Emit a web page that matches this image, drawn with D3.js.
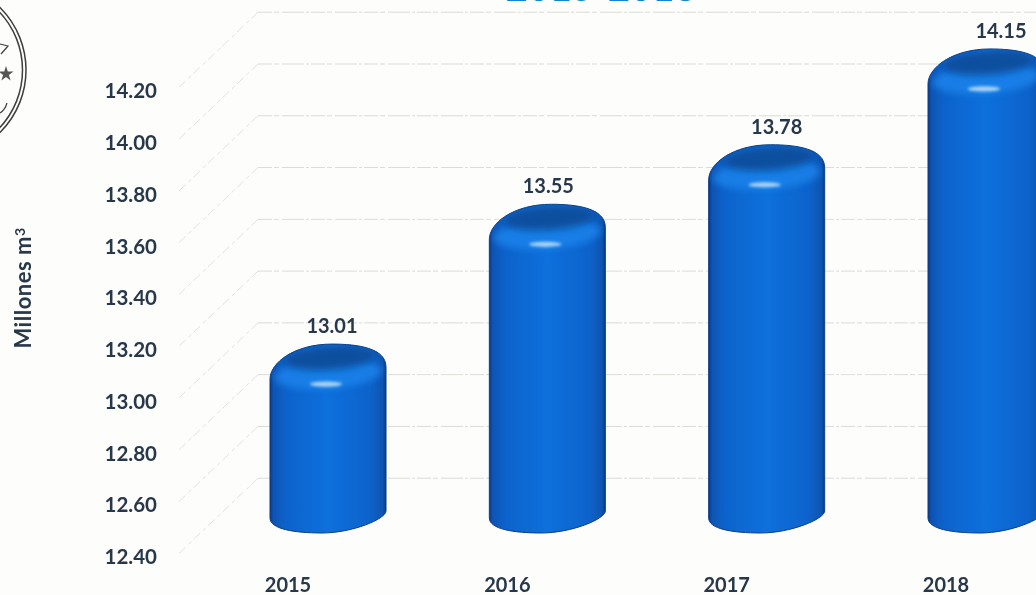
<!DOCTYPE html>
<html>
<head>
<meta charset="utf-8">
<script src="https://cdn.jsdelivr.net/npm/d3@7"></script>
<style>
  html, body { margin: 0; padding: 0; background: #fdfdfb; overflow: hidden; }
  text { font-family: Lato, "Open Sans", sans-serif; font-weight: 700; fill: #27374a; }
</style>
</head>
<body>
<div id="viz_container"></div>
<script>
// chart values
const years = ["2015", "2016", "2017", "2018"];
const volumes = [13.01, 13.55, 13.78, 14.15];
const tickLabels = [12.4, 12.6, 12.8, 13.0, 13.2, 13.4, 13.6, 13.8, 14.0, 14.2];
const gridLevels = [12.6, 12.8, 13.0, 13.2, 13.4, 13.6, 13.8, 14.0, 14.2, 14.4];
const yAxisTitle = "Millones m";
const chartTitle = "2015-2018";

const width = 1036, height = 595;

const svg = d3.select("#viz_container")
  .append("svg")
    .attr("width", width)
    .attr("height", height)
    .style("display", "block");

const defs = svg.append("defs");

// slight softness, it is a scanned page
const soft = defs.append("filter").attr("id", "soft");
soft.append("feGaussianBlur").attr("stdDeviation", 0.6);
const softer = defs.append("filter").attr("id", "softer")
  .attr("x", "-50%").attr("width", "200%").attr("y", "-150%").attr("height", "400%");
softer.append("feGaussianBlur").attr("stdDeviation", 1.6);
const capBlur = defs.append("filter").attr("id", "capBlur")
  .attr("x", "-20%").attr("width", "140%").attr("y", "-40%").attr("height", "180%");
capBlur.append("feGaussianBlur").attr("stdDeviation", 3.5);

// body of the cylinder
const bodyGrad = defs.append("linearGradient").attr("id", "body");
[["0%", "#063a86"], ["3%", "#0a55b4"], ["14%", "#0b63cc"], ["50%", "#0f70dc"],
 ["86%", "#0b63cc"], ["97%", "#0a55b2"], ["100%", "#063a84"]]
  .forEach(s => bodyGrad.append("stop").attr("offset", s[0]).attr("stop-color", s[1]));

// scales, front of the chart
const xScale = d3.scalePoint().domain(years).range([328, 986]);
const yScale = d3.scaleLinear().domain([12.4, 14.2]).range([556, 90]);

// depth of the 3D box
const backShift = -26, frontShift = 51;
const wallBack = 258, wallFront = 177;
const barLift = -39, barHalf = 58;

// value labels do not sit quite on the bar centres
const labelNudge = [4, 1, 10, 15];

// title, cut by the top of the page
svg.append("text")
  .attr("x", 601).attr("y", 1)
  .attr("text-anchor", "middle")
  .style("font-size", "38px")
  .style("fill", "#0f86d8")
  .attr("filter", "url(#soft)")
  .text(chartTitle);

// grid
const grid = svg.append("g")
  .attr("fill", "none")
  .attr("stroke", "#dcdbd6")
  .attr("stroke-width", 1)
  .attr("filter", "url(#soft)");

grid.selectAll(".back")
  .data(gridLevels)
  .join("line")
    .attr("class", "back")
    .attr("stroke-dasharray", "14 2 5 3 22 2 3 2")
    .attr("x1", wallBack).attr("x2", width)
    .attr("y1", d => yScale(d) + backShift)
    .attr("y2", d => yScale(d) + backShift);

grid.selectAll(".wall")
  .data(gridLevels)
  .join("path")
    .attr("class", "wall")
    .attr("stroke", "#e2e1dc")
    .attr("stroke-dasharray", "9 3 4 4")
    .attr("d", d => `M${wallBack},${yScale(d) + backShift}L${wallFront},${yScale(d) + frontShift}`);

// y axis labels
svg.append("g")
  .selectAll("text")
  .data(tickLabels)
  .join("text")
    .attr("x", 157)
    .attr("y", d => yScale(d) + 1)
    .attr("dy", "0.35em")
    .attr("text-anchor", "end")
    .style("font-size", "20.5px")
    .attr("filter", "url(#soft)")
    .text(d => d.toFixed(2));

// y axis title
const yTitle = svg.append("text")
  .attr("transform", "translate(31,288) rotate(-90)")
  .attr("text-anchor", "middle")
  .style("font-size", "22px")
  .style("letter-spacing", "0.5px")
  .attr("filter", "url(#soft)")
  .text(yAxisTitle);
yTitle.append("tspan").attr("dy", "-0.4em").style("font-size", "14px").text("3");

// x axis labels
svg.append("g")
  .selectAll("text")
  .data(years)
  .join("text")
    .attr("x", d => xScale(d) - 40)
    .attr("y", 585)
    .attr("dy", "0.35em")
    .attr("text-anchor", "middle")
    .style("font-size", "20px")
    .attr("filter", "url(#soft)")
    .text(d => d);

// cylinders
const bars = years.map((year, i) => ({ year, value: volumes[i], nudge: labelNudge[i] }));
const baseY = yScale(12.4) + barLift;

function cylinderPath(d) {
  const cx = xScale(d.year), top = yScale(d.value) + barLift;
  const l = cx - barHalf, r = cx + barHalf;
  return `M${l},${top + 20}
    C${l},${top + 4} ${cx - 34},${top - 15} ${cx + 4},${top - 15}
    C${cx + 30},${top - 15} ${r},${top - 11} ${r},${top + 8}
    L${r},${baseY - 6}
    C${r},${baseY + 2} ${cx + 24},${baseY + 16} ${cx - 6},${baseY + 16}
    C${cx - 34},${baseY + 16} ${l},${baseY + 12} ${l},${baseY + 1}Z`;
}

const bar = svg.append("g")
  .selectAll("g")
  .data(bars)
  .join("g");

// cap shading stays inside the silhouette
defs.selectAll("clipPath")
  .data(bars)
  .join("clipPath")
    .attr("id", d => `clip${d.year}`)
  .append("path")
    .attr("d", cylinderPath);

bar.append("path")
  .attr("d", cylinderPath)
  .attr("fill", "url(#body)")
  .attr("stroke", "#0a3f86")
  .attr("stroke-width", 1)
  .attr("filter", "url(#soft)");

const capArea = bar.append("g")
  .attr("clip-path", d => `url(#clip${d.year})`);

// lighter band under the cap
capArea.append("ellipse")
  .attr("cx", d => xScale(d.year))
  .attr("cy", d => yScale(d.value) + barLift + 15)
  .attr("rx", barHalf - 4)
  .attr("ry", 15)
  .attr("transform", d => `rotate(-4 ${xScale(d.year)} ${yScale(d.value) + barLift + 15})`)
  .attr("fill", "#1a84ec")
  .attr("opacity", 0.8)
  .attr("filter", "url(#capBlur)");

// dark cap
capArea.append("ellipse")
  .attr("cx", d => xScale(d.year) + 2)
  .attr("cy", d => yScale(d.value) + barLift - 1)
  .attr("rx", barHalf - 12)
  .attr("ry", 12)
  .attr("transform", d => `rotate(-4 ${xScale(d.year)} ${yScale(d.value) + barLift})`)
  .attr("fill", "#0a4f9f")
  .attr("filter", "url(#capBlur)");

// highlight
bar.append("ellipse")
  .attr("cx", d => xScale(d.year) - 2)
  .attr("cy", d => yScale(d.value) + barLift + 25)
  .attr("rx", 16)
  .attr("ry", 2.6)
  .attr("fill", "#a9d4f6")
  .attr("filter", "url(#softer)");

// value labels
bar.append("text")
  .attr("x", d => xScale(d.year) + d.nudge)
  .attr("y", d => yScale(d.value) + barLift - 33)
  .attr("dy", "0.35em")
  .attr("text-anchor", "middle")
  .style("font-size", "20px")
  .attr("filter", "url(#soft)")
  .text(d => d.value.toFixed(2));

// seal at the left edge of the page
const seal = svg.append("g")
  .attr("fill", "none")
  .attr("stroke", "#3f3f3f")
  .attr("filter", "url(#soft)");
seal.append("circle").attr("cx", -62).attr("cy", 70).attr("r", 88).attr("stroke-width", 1.5);
seal.append("circle").attr("cx", -62).attr("cy", 70).attr("r", 84.5).attr("stroke-width", 1.5);
seal.append("path")
  .attr("d", d3.symbol(d3.symbolStar, 70)())
  .attr("transform", "translate(6,74)")
  .attr("fill", "#555")
  .attr("stroke", "none");
seal.append("path").attr("d", "M0,44L8,46L1,54").attr("stroke-width", 1.2);
seal.append("path").attr("d", "M0,113Q5,110 7,103").attr("stroke-width", 1.2);
</script>
</body>
</html>
